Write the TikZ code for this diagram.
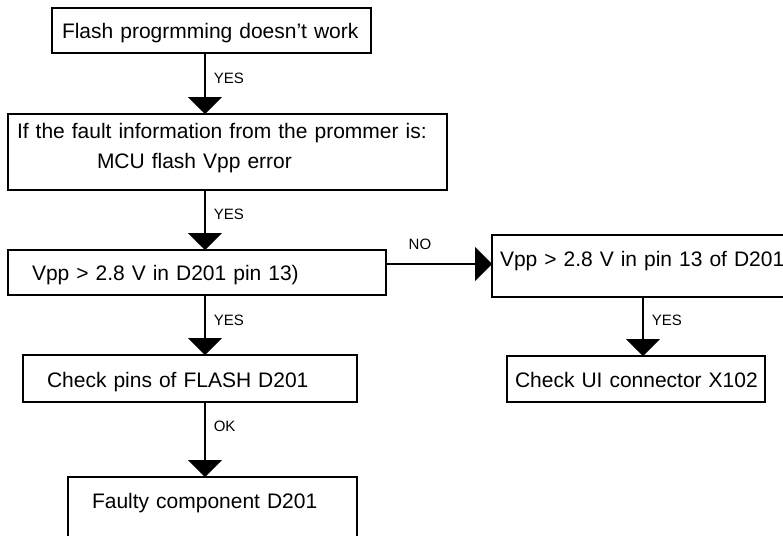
\documentclass[tikz,border=0pt]{standalone}
\usepackage{fontspec}
\setmainfont{Liberation Sans}
\usetikzlibrary{arrows.meta}

\begin{document}
\begin{tikzpicture}[x=1pt,y=-1pt,
	box/.style={draw,line width=1.5pt,rectangle,anchor=north west,outer sep=0pt,inner ysep=0pt,align=left,font=\fontsize{21}{30}\selectfont},
	flow/.style={line width=1.5pt,-{Triangle[width=34pt,length=17pt]}},
	tag/.style={font=\fontsize{15}{18}\selectfont,inner sep=2pt}]
			\useasboundingbox (0,0) rectangle (783,535);
			\clip (0,0) rectangle (783,535);
			\coordinate (spine) at (205,0);
			\coordinate (branch) at (643,0);
			\coordinate (nobranch) at (0,264);

			\node[box,inner xsep=10pt,text width=299pt,text height=30pt,text depth=15pt] (start) at (52,8) {Flash progrmming doesn’t work};
			\node[box,inner xsep=9pt,text width=421pt,text height=24pt,text depth=52pt] (fault) at (8,114) {If the fault information from the prommer is:\\\hspace*{80pt}MCU flash Vpp error};
			\node[box,inner xsep=24pt,text width=330pt,text height=30pt,text depth=15pt] (vpp) at (8,250) {Vpp > 2.8 V in D201 pin 13)};
			\node[box,inner xsep=24pt,text width=286pt,text height=32pt,text depth=15pt] (pins) at (23,355) {Check pins of FLASH D201};
			\node[box,inner xsep=24pt,text width=241pt,text height=31pt,text depth=60pt] (faulty) at (68,477) {Faulty component D201};
			\node[box,inner xsep=8pt,text width=300pt,text height=31pt,text depth=31pt] (vppb) at (492,235) {Vpp > 2.8 V in pin 13 of D201};
			\node[box,inner xsep=8pt,text width=242pt,text height=31pt,text depth=15pt] (ui) at (507,356) {\mbox{Check UI connector X102}};

			\draw[flow] (start.south -| spine) -- node[tag,right=6pt,pos=0.41] {YES} (fault.north -| spine);
			\draw[flow] (fault.south -| spine) -- node[tag,right=6pt,pos=0.40] {YES} (vpp.north -| spine);
			\draw[flow] (vpp.south -| spine) -- node[tag,right=6pt,pos=0.42] {YES} (pins.north -| spine);
			\draw[flow] (pins.south -| spine) -- node[tag,right=6pt,pos=0.33] {OK} (faulty.north -| spine);
			\draw[flow] (vpp.east |- nobranch) -- node[tag,above=11.5pt,pos=0.32] {NO} (vppb.west |- nobranch);
			\draw[flow] (vppb.south -| branch) -- node[tag,right=6pt,pos=0.39] {YES} (ui.north -| branch);
\end{tikzpicture}
\end{document}
